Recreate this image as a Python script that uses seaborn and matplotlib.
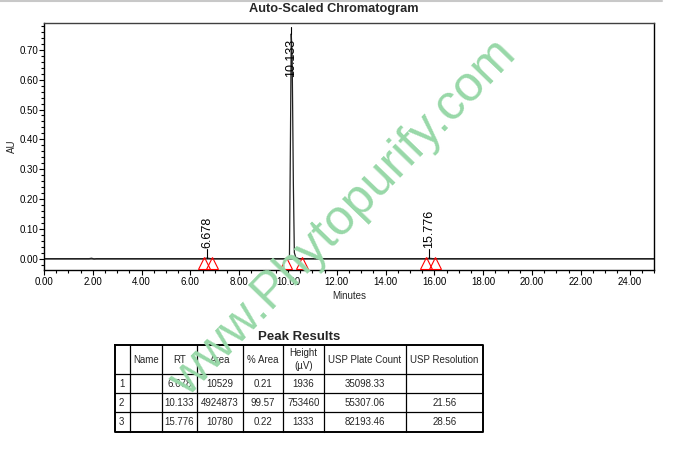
import numpy as np
import pandas as pd
import matplotlib
matplotlib.use("Agg")
import matplotlib.pyplot as plt
import seaborn as sns
from matplotlib.ticker import MultipleLocator, FormatStrFormatter
from matplotlib.lines import Line2D

# ---------------------------------------------------------------------------
# Data
# ---------------------------------------------------------------------------

TRACE_MIN = [0.0, 1.85, 1.95, 2.05, 2.15, 6.55, 6.678, 6.85,
             10.00, 10.06, 10.10, 10.133, 10.17, 10.22, 10.26, 10.32, 10.45,
             15.65, 15.776, 15.95, 25.0]
TRACE_AU = [0.0, 0.0, 0.0015, -0.001, 0.0, 0.0, 0.0019, 0.0,
            0.0, 0.01, 0.40, 0.7535, 0.68, 0.25, 0.02, 0.004, 0.0,
            0.0, 0.0013, 0.0, 0.0]

PEAK_RT = [6.678, 10.133, 15.776]
PEAK_HEIGHT_AU = [0.0019, 0.7535, 0.0013]
PEAK_LABELS = ["6.678", "10.133", "15.776"]
PEAK_START = [6.56, 9.93, 15.66]
PEAK_END = [6.89, 10.58, 16.01]

TABLE_COLUMNS = ["", "Name", "RT", "Area", "% Area", "Height\n(\u00b5V)",
                 "USP Plate Count", "USP Resolution"]
ROW_IDS = ["1", "2", "3"]
ROW_NAMES = ["", "", ""]
ROW_RT = ["6.678", "10.133", "15.776"]
ROW_AREA = ["10529", "4924873", "10780"]
ROW_PCT_AREA = ["0.21", "99.57", "0.22"]
ROW_HEIGHT = ["1936", "753460", "1333"]
ROW_PLATES = ["35098.33", "55307.06", "82193.46"]
ROW_RESOLUTION = ["", "21.56", "28.56"]

# ---------------------------------------------------------------------------
# Style
# ---------------------------------------------------------------------------

sns.set_theme(style="white")
plt.rcParams["font.family"] = ["Liberation Sans", "DejaVu Sans"]

W, H = 684, 472
fig = plt.figure(figsize=(W / 100, H / 100), dpi=100)


def px_box(x0, y0, x1, y1):
    """pixel box (top-left origin) -> figure fraction [l, b, w, h]"""
    return [x0 / W, 1 - y1 / H, (x1 - x0) / W, (y1 - y0) / H]


# ---------------------------------------------------------------------------
# Chromatogram
# ---------------------------------------------------------------------------

ax = fig.add_axes(px_box(44, 23, 654, 270))
trace = pd.DataFrame({"Minutes": TRACE_MIN, "AU": TRACE_AU})

ax.axhline(0, color="#808080", lw=1.4, zorder=1)
sns.lineplot(data=trace, x="Minutes", y="AU", ax=ax, color="#202020",
             lw=0.9, sort=False, zorder=2)

# peak start / end markers
ax.plot(PEAK_START + PEAK_END, [-0.015] * (len(PEAK_START) * 2),
        linestyle="none", marker="^", markersize=8.5, mfc="none",
        mec="red", mew=0.8, zorder=3)

# peak labels with drop lines
for rt, h, lab in zip(PEAK_RT, PEAK_HEIGHT_AU, PEAK_LABELS):
    if h + 0.035 > 0.7:
        ax.plot([rt, rt], [h, 0.775], color="black", lw=0.8)
        ax.text(rt, 0.738, lab, rotation=90, ha="center", va="top",
                fontsize=9, color="black")
    else:
        ax.plot([rt, rt], [h, 0.034], color="black", lw=0.8)
        ax.text(rt, 0.036, lab, rotation=90, ha="center", va="bottom",
                fontsize=9, color="black")

ax.set_xlim(0, 25)
ax.set_ylim(-0.038, 0.79)
ax.xaxis.set_major_locator(MultipleLocator(2))
ax.xaxis.set_minor_locator(MultipleLocator(0.5))
ax.yaxis.set_major_locator(MultipleLocator(0.1))
ax.yaxis.set_minor_locator(MultipleLocator(0.02))
ax.xaxis.set_major_formatter(FormatStrFormatter("%.2f"))
ax.yaxis.set_major_formatter(FormatStrFormatter("%.2f"))
ax.set_yticks([t / 10 for t in range(8)])
ax.tick_params(axis="both", which="major", direction="out", length=3.5,
               width=0.8, labelsize=7, color="black", labelcolor="black")
ax.tick_params(axis="both", which="minor", direction="out", length=2.5,
               width=0.8, color="black")
ax.tick_params(axis="x", which="both", bottom=True, pad=1.5)
ax.tick_params(axis="y", which="both", left=True, pad=0.8)
for s in ax.spines.values():
    s.set_color("black")
    s.set_linewidth(1.0)
ax.spines["top"].set_color("#404040")

ax.set_xlabel("Minutes", fontsize=7, labelpad=3)
ax.set_ylabel("AU", fontsize=7, labelpad=1.5)

fig.text(333.5 / W, 1 - 9 / H, "Auto-Scaled Chromatogram", ha="center",
         va="center", fontsize=9.2, fontweight="bold")
fig.add_artist(Line2D([0, 662 / W], [1 - 1 / H, 1 - 1 / H],
                      color="#c8c8c8", lw=1.5))

# ---------------------------------------------------------------------------
# Peak results table
# ---------------------------------------------------------------------------

col_edges = [115, 130, 162, 197, 243, 283, 324, 406, 483]
row_edges = [345, 374, 393, 412, 432]
tx0, tx1, ty0, ty1 = col_edges[0], col_edges[-1], row_edges[0], row_edges[-1]

tab = fig.add_axes(px_box(tx0 - 2, ty0 - 2, tx1 + 2, ty1 + 2))
tab.set_xlim(tx0 - 2, tx1 + 2)
tab.set_ylim(ty1 + 2, ty0 - 2)
tab.axis("off")

for x in col_edges[1:-1]:
    tab.plot([x, x], [ty0, ty1], color="black", lw=0.9)
for y in row_edges[1:-1]:
    tab.plot([tx0, tx1], [y, y], color="black", lw=0.9)
tab.plot([tx0, tx1, tx1, tx0, tx0], [ty0, ty0, ty1, ty1, ty0],
         color="black", lw=1.4)

header_y = (row_edges[0] + row_edges[1]) / 2
for i, lab in enumerate(TABLE_COLUMNS):
    cx = (col_edges[i] + col_edges[i + 1]) / 2
    tab.text(cx, header_y, lab, ha="center", va="center", fontsize=7,
             linespacing=1.3)

rows = list(zip(ROW_IDS, ROW_NAMES, ROW_RT, ROW_AREA, ROW_PCT_AREA,
                ROW_HEIGHT, ROW_PLATES, ROW_RESOLUTION))
for r, row in enumerate(rows):
    cy = (row_edges[r + 1] + row_edges[r + 2]) / 2
    for i, val in enumerate(row):
        if i == 0:
            tab.text(col_edges[0] + 4, cy, val, ha="left", va="center",
                     fontsize=7)
        else:
            cx = (col_edges[i] + col_edges[i + 1]) / 2
            tab.text(cx, cy, val, ha="center", va="center", fontsize=7)

fig.text(299 / W, 1 - 337 / H, "Peak Results", ha="center", va="center",
         fontsize=9.5, fontweight="bold")

# watermark
fig.text(343 / W, 1 - 218 / H, "www.Phytopurify.com", ha="center",
         va="center", rotation=46, rotation_mode="anchor", fontsize=36,
         color="#98d8a8", zorder=10)

fig.savefig("out.png", dpi=100)
